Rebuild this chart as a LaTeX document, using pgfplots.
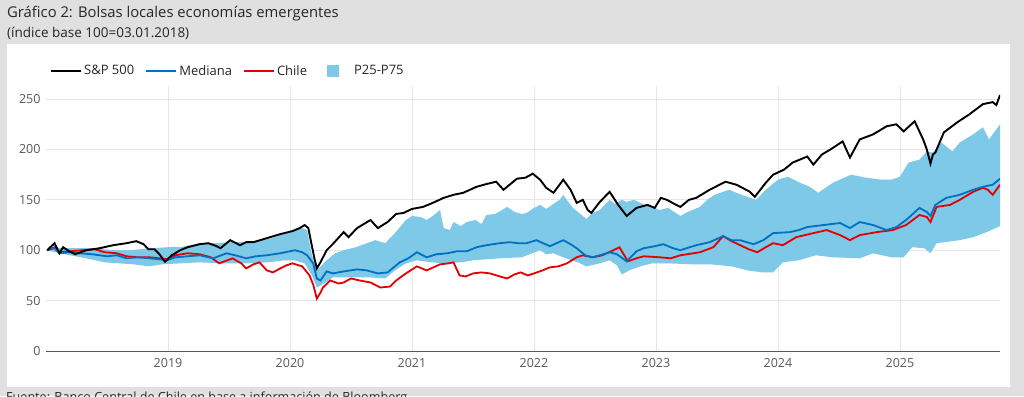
\documentclass[border=0pt]{standalone}
\usepackage{fontspec}
\setmainfont{Open Sans}
\usepackage{pgfplots}
\usepackage{pgfplotstable}
\pgfplotsset{compat=1.18}
\definecolor{bgc}{RGB}{225,224,224}
\definecolor{band}{RGB}{126,200,232}
\definecolor{med}{RGB}{0,112,192}
\definecolor{chi}{RGB}{228,0,0}
\definecolor{gridc}{RGB}{230,230,230}
\definecolor{tickc}{RGB}{89,89,89}
\definecolor{txtc}{RGB}{38,38,38}

\pgfplotstableread{
x y
2018.01 100
2018.07 107
2018.11 97
2018.14 103
2018.19 99
2018.24 96
2018.33 100
2018.44 102
2018.55 105
2018.66 107
2018.74 109
2018.80 106
2018.84 101
2018.89 101
2018.93 96
2018.975 88.6
2019.03 95
2019.10 100
2019.16 103
2019.26 106
2019.33 107
2019.40 104
2019.43 102
2019.51 110
2019.59 105
2019.64 108
2019.70 108
2019.81 112
2019.92 116
2020.02 119
2020.08 122
2020.12 125
2020.15 122
2020.17 110
2020.20 92
2020.22 82
2020.25 88
2020.30 100
2020.35 106
2020.44 118
2020.48 113
2020.55 122
2020.66 130
2020.72 122
2020.80 128
2020.87 136
2020.93 137
2021.00 141
2021.09 143
2021.17 147
2021.26 152
2021.34 155
2021.42 157
2021.53 163
2021.62 166
2021.69 168
2021.75 160
2021.80 165
2021.86 171
2021.93 172
2021.99 176
2022.05 170
2022.10 162
2022.16 157
2022.24 170
2022.30 160
2022.35 147
2022.40 150
2022.44 140
2022.47 137
2022.54 148
2022.62 158
2022.69 145
2022.76 134
2022.84 142
2022.93 145
2022.99 142
2023.04 152
2023.09 150
2023.15 146
2023.20 143
2023.27 150
2023.33 152
2023.44 160
2023.57 168
2023.66 165
2023.77 158
2023.81 153
2023.90 167
2023.96 175
2024.05 180
2024.12 187
2024.24 193
2024.29 185
2024.36 195
2024.43 200
2024.53 208
2024.59 192
2024.67 210
2024.78 215
2024.89 223
2024.97 225
2025.03 218
2025.12 228
2025.19 210
2025.22 200
2025.25 186
2025.27 195
2025.29 197
2025.36 217
2025.47 227
2025.57 235
2025.68 245
2025.76 247
2025.79 244
2025.82 254
}\tblspx

\pgfplotstableread{
x y
2018.01 100
2018.07 102
2018.11 97
2018.20 98
2018.28 97
2018.38 96
2018.50 94
2018.58 95
2018.66 92
2018.75 93
2018.85 92
2018.93 91
2018.99 90
2019.06 93
2019.16 94
2019.26 95
2019.37 92
2019.48 97
2019.55 95
2019.64 92
2019.72 94
2019.81 95
2019.92 97
2020.04 100
2020.10 98
2020.14 95
2020.19 87
2020.22 72
2020.25 70
2020.30 79
2020.35 77
2020.44 79
2020.55 81
2020.63 80
2020.72 77
2020.80 78
2020.90 88
2020.97 92
2021.04 98
2021.12 93
2021.20 96
2021.29 97
2021.37 99
2021.45 99
2021.53 103
2021.61 105
2021.72 107
2021.80 108
2021.87 107
2021.94 107
2022.02 110
2022.13 104
2022.24 110
2022.30 106
2022.35 102
2022.42 95
2022.48 93
2022.54 95
2022.62 98
2022.68 96
2022.76 89
2022.84 99
2022.90 102
2022.99 104
2023.06 106
2023.14 102
2023.20 100
2023.25 102
2023.33 105
2023.44 108
2023.55 114
2023.62 110
2023.69 110
2023.80 106
2023.88 110
2023.96 117
2024.10 118
2024.17 120
2024.24 123
2024.37 125
2024.51 127
2024.59 122
2024.67 128
2024.78 125
2024.89 120
2024.97 123
2025.05 130
2025.16 142
2025.22 138
2025.25 134
2025.29 145
2025.38 152
2025.49 155
2025.60 160
2025.68 163
2025.76 165
2025.82 171
}\tblmed

\pgfplotstableread{
x y
2018.01 100
2018.07 103
2018.11 98
2018.20 99
2018.30 100
2018.40 101
2018.48 98
2018.58 97
2018.66 94
2018.75 93
2018.85 93
2018.93 92
2018.99 91
2019.06 95
2019.16 97
2019.26 96
2019.35 93
2019.42 87
2019.53 92
2019.60 87
2019.64 82
2019.70 86
2019.75 88
2019.81 80
2019.86 78
2019.92 82
2019.97 85
2020.02 87
2020.10 84
2020.16 75
2020.19 66
2020.22 52
2020.25 58
2020.27 63
2020.33 70
2020.40 67
2020.44 68
2020.50 72
2020.57 70
2020.66 68
2020.74 63
2020.82 64
2020.87 70
2020.95 77
2021.04 84
2021.12 80
2021.23 86
2021.30 87
2021.34 88
2021.39 75
2021.44 74
2021.50 77
2021.57 78
2021.64 77
2021.72 74
2021.78 72
2021.84 76
2021.89 78
2021.95 75
2022.00 77
2022.07 80
2022.13 83
2022.20 84
2022.27 87
2022.35 93
2022.40 95
2022.48 93
2022.56 95
2022.65 100
2022.70 103
2022.74 95
2022.77 89
2022.84 92
2022.90 94
2023.03 93
2023.12 92
2023.20 95
2023.36 98
2023.47 103
2023.55 114
2023.62 109
2023.69 105
2023.76 101
2023.83 98
2023.90 103
2023.96 107
2024.04 105
2024.15 113
2024.29 117
2024.40 120
2024.51 115
2024.59 110
2024.67 115
2024.81 118
2024.94 120
2025.05 125
2025.16 135
2025.22 133
2025.25 128
2025.30 143
2025.41 145
2025.49 150
2025.60 158
2025.68 162
2025.72 160
2025.76 155
2025.82 165
}\tblchile

% P25-P75 band: upper edge (P75) left to right, then lower edge (P25) right to left
\pgfplotstableread{
x y
2018.01 100
2018.10 102
2018.22 102
2018.40 102
2018.55 100
2018.70 100
2018.85 102
2019.00 103
2019.10 103
2019.26 107
2019.40 107
2019.51 108
2019.70 108
2019.85 112
2019.92 115
2020.04 120
2020.10 122
2020.14 120
2020.18 95
2020.22 80
2020.30 90
2020.37 97
2020.44 100
2020.54 103
2020.70 110
2020.78 107
2020.86 117
2020.95 130
2021.00 134
2021.07 133
2021.12 130
2021.17 134
2021.23 140
2021.26 122
2021.31 120
2021.34 128
2021.40 124
2021.45 128
2021.52 130
2021.57 126
2021.61 135
2021.68 136
2021.74 140
2021.78 143
2021.84 138
2021.90 136
2021.94 137
2022.00 142
2022.05 145
2022.10 141
2022.16 146
2022.21 150
2022.24 155
2022.28 148
2022.32 142
2022.38 136
2022.43 131
2022.48 137
2022.54 140
2022.58 145
2022.62 150
2022.66 146
2022.72 150
2022.76 148
2022.82 150
2022.87 147
2022.95 143
2023.03 140
2023.10 142
2023.20 134
2023.26 138
2023.36 143
2023.42 150
2023.48 155
2023.60 160
2023.70 155
2023.82 150
2023.90 160
2024.00 170
2024.08 173
2024.18 167
2024.26 163
2024.33 157
2024.45 167
2024.60 175
2024.72 172
2024.85 170
2024.93 170
2025.00 173
2025.07 187
2025.16 190
2025.22 198
2025.27 197
2025.34 207
2025.43 198
2025.49 207
2025.60 215
2025.68 222
2025.73 210
2025.82 225
2025.82 124
2025.71 118
2025.60 113
2025.49 110
2025.30 107
2025.25 97
2025.20 102
2025.10 103
2025.03 93
2024.93 93
2024.78 97
2024.67 92
2024.45 93
2024.31 95
2024.17 90
2024.04 88
2023.96 78
2023.87 78
2023.75 80
2023.62 84
2023.45 86
2023.30 86
2023.10 87
2022.97 87
2022.87 84
2022.78 80
2022.72 76
2022.68 85
2022.62 90
2022.54 87
2022.43 84
2022.36 88
2022.26 92
2022.16 97
2022.10 96
2022.05 100
2021.90 93
2021.72 92
2021.50 90
2021.40 88
2021.26 87
2021.16 88
2021.04 90
2020.95 87
2020.86 80
2020.78 72
2020.66 73
2020.50 73
2020.35 73
2020.28 67
2020.22 63
2020.18 75
2020.12 87
2020.04 90
2019.95 90
2019.82 88
2019.65 87
2019.43 87
2019.26 88
2019.10 87
2018.95 86
2018.84 84
2018.72 86
2018.60 87
2018.48 88
2018.33 92
2018.20 95
2018.08 98
2018.01 100
}\tblband

\pgfplotsset{sqlegend/.style={legend image code/.code={%
  \draw[draw=none, fill=none] (0pt,-5.5pt) rectangle (34pt,5.5pt);
  \fill[band] (9pt,-5.5pt) rectangle (20pt,5.5pt);}}}

\begin{document}
\begin{tikzpicture}[x=1pt,y=1pt]
\fill[bgc] (0,0) rectangle (1024,-396);
\fill[white] (7,-44) rectangle (1010,-387);
\node[anchor=base west, inner sep=0, text=txtc, font=\fontsize{14.8}{17}\selectfont] at (7,-18) {Gráfico 2: Bolsas locales economías emergentes};
\node[anchor=base west, inner sep=0, text=txtc, font=\fontsize{13.5}{15}\selectfont] at (7,-37.5) {(índice base 100=03.01.2018)};
\node[anchor=base west, inner sep=0, text=txtc, font=\fontsize{12.6}{14}\selectfont] at (6,-401.5) {Fuente: Banco Central de Chile en base a información de Bloomberg.};
\begin{axis}[
  at={(46pt,-351pt)}, anchor=south west,
  scale only axis, width=954pt, height=265pt,
  xmin=2018.0, xmax=2025.82, ymin=0, ymax=263,
  xtick={2019,2020,2021,2022,2023,2024,2025},
  xticklabels={2019,2020,2021,2022,2023,2024,2025},
  ytick={0,50,100,150,200,250},
  /pgf/number format/assume math mode=true,
  tick style={draw=none},
  major tick length=0pt,
  grid=major,
  major grid style={draw=gridc, line width=0.8pt},
  axis x line*=bottom, axis y line*=left,
  x axis line style={draw=tickc, line width=0.9pt},
  y axis line style={draw=none},
  ticklabel style={font=\fontsize{12.5}{14}\selectfont, text=tickc},
  xticklabel style={yshift=-4pt},
  yticklabel style={xshift=-2pt},
  legend columns=4,
  legend style={at={(0.001,1.057)}, anchor=west, draw=none, fill=none,
    font=\fontsize{13}{15}\selectfont, text=txtc,
    /tikz/every even column/.append style={column sep=9pt}},
  legend cell align=left,
  legend image code/.code={\draw[#1] (0pt,0pt) -- (30pt,0pt);},
]
\addlegendimage{black, line width=2pt}
\addlegendentry{S\&P 500}
\addlegendimage{med, line width=2pt}
\addlegendentry{Mediana}
\addlegendimage{chi, line width=2pt}
\addlegendentry{Chile}
\addlegendimage{sqlegend}
\addlegendentry{P25-P75}

\addplot[fill=band, draw=none, forget plot] table[x=x,y=y] {\tblband} -- cycle;
\addplot[chi, line width=1.8pt, forget plot] table[x=x,y=y] {\tblchile};
\addplot[med, line width=1.8pt, forget plot] table[x=x,y=y] {\tblmed};
\addplot[black, line width=1.9pt, forget plot] table[x=x,y=y] {\tblspx};
\end{axis}
\pgfresetboundingbox
\path[use as bounding box] (0,0) rectangle (1024,-396);
\end{tikzpicture}
\end{document}
